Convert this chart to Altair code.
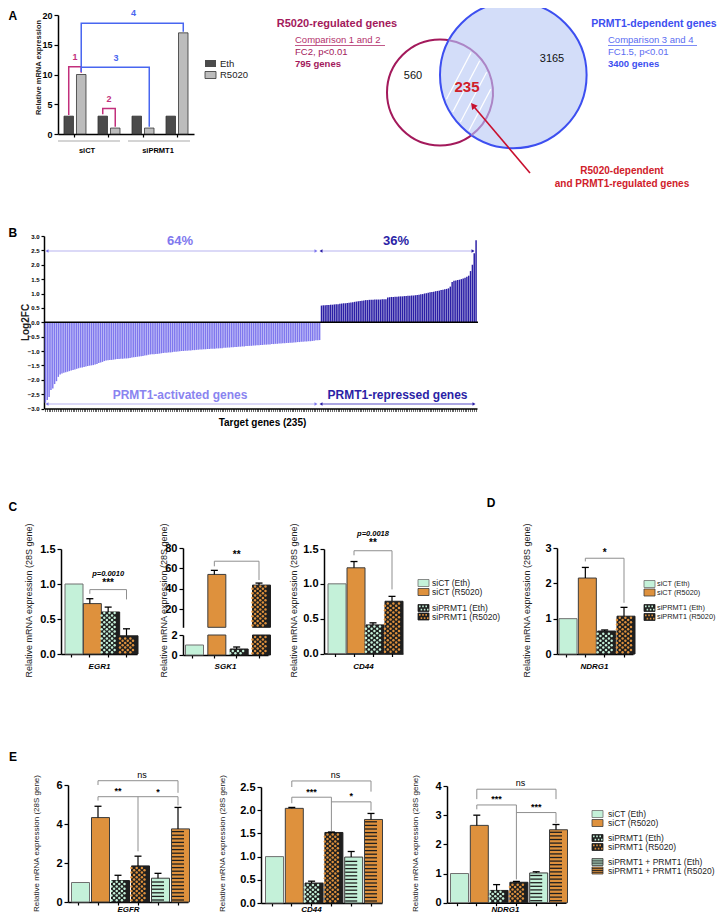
import math
import altair as alt
import pandas as pd

FONT = "Liberation Sans"
W, H = 712, 906
OFF = 8


def px(v):
    return v - OFF


# ============================ DATA ============================
# Panel A (schematic expression levels)
a_pairs = ["1", "2", "3", "4"]
a_treatments = ["Eth", "R5020"]
a_eth = [3, 3, 3, 3]
a_r5020 = [10, 1, 1, 17]
a_groups = ["siCT", "siPRMT1"]

# Venn counts
venn_r5020_only = 560
venn_prmt1_only = 3165
venn_overlap = 235
venn_r5020_total = 795
venn_prmt1_total = 3400

# Panel B: Log2FC of the 235 target genes (sorted)
b_activated = [
    -2.80, -2.70, -2.60, -2.36, -2.30, -2.15, -2.05, -1.90, -1.82, -1.78,
    -1.76, -1.74, -1.72, -1.70, -1.68, -1.66, -1.64, -1.62, -1.60, -1.58,
    -1.57, -1.56, -1.54, -1.52, -1.51, -1.50, -1.49, -1.47, -1.45, -1.42,
    -1.40, -1.38, -1.35, -1.33, -1.32, -1.31, -1.31, -1.30, -1.29, -1.28,
    -1.28, -1.27, -1.27, -1.26, -1.26, -1.25, -1.24, -1.23, -1.22, -1.21,
    -1.20, -1.19, -1.18, -1.17, -1.16, -1.15, -1.13, -1.12, -1.11, -1.11,
    -1.10, -1.10, -1.09, -1.08, -1.07, -1.06, -1.06, -1.05, -1.05, -1.04,
    -1.03, -1.03, -1.02, -1.01, -1.00, -1.00, -0.99, -0.99, -0.98, -0.98,
    -0.97, -0.97, -0.96, -0.96, -0.95, -0.95, -0.94, -0.94, -0.93, -0.93,
    -0.92, -0.92, -0.92, -0.91, -0.91, -0.90, -0.90, -0.89, -0.89, -0.88,
    -0.88, -0.87, -0.87, -0.86, -0.86, -0.85, -0.85, -0.84, -0.84, -0.83,
    -0.83, -0.82, -0.82, -0.81, -0.81, -0.80, -0.80, -0.79, -0.79, -0.78,
    -0.78, -0.77, -0.77, -0.76, -0.76, -0.75, -0.75, -0.74, -0.74, -0.73,
    -0.73, -0.72, -0.72, -0.71, -0.71, -0.70, -0.70, -0.69, -0.69, -0.68,
    -0.68, -0.67, -0.67, -0.66, -0.66, -0.65, -0.64, -0.63, -0.63, -0.62,
]
b_repressed = [
    0.58, 0.59, 0.59, 0.60, 0.60, 0.61, 0.61, 0.62, 0.63, 0.63,
    0.64, 0.65, 0.66, 0.66, 0.67, 0.68, 0.69, 0.70, 0.71, 0.72,
    0.73, 0.74, 0.75, 0.76, 0.77, 0.77, 0.78, 0.78, 0.78, 0.79,
    0.79, 0.79, 0.79, 0.80, 0.80, 0.80, 0.86, 0.87, 0.88, 0.88,
    0.89, 0.89, 0.90, 0.90, 0.90, 0.91, 0.91, 0.92, 0.92, 0.93,
    0.93, 0.94, 0.95, 0.96, 0.97, 0.98, 1.00, 1.01, 1.03, 1.04,
    1.05, 1.06, 1.08, 1.09, 1.10, 1.12, 1.13, 1.15, 1.16, 1.18,
    1.24, 1.40, 1.44, 1.45, 1.47, 1.48, 1.50, 1.52, 1.55, 1.58,
    1.62, 1.78, 2.00, 2.40, 2.85,
]
b_pct = ["64%", "36%"]

# Panels C, D, E
cond4 = ["siCT (Eth)", "siCT (R5020)", "siPRMT1 (Eth)", "siPRMT1 (R5020)"]
cond6 = cond4 + ["siPRMT1 + PRMT1 (Eth)", "siPRMT1 + PRMT1 (R5020)"]

c_egr1 = [1.0, 0.72, 0.60, 0.26]
c_egr1_err = [0.0, 0.07, 0.07, 0.10]
c_sgk1 = [1.0, 54.0, 0.6, 43.5]
c_sgk1_err = [0.0, 4.0, 0.2, 2.0]
c_cd44 = [1.0, 1.23, 0.41, 0.75]
c_cd44_err = [0.0, 0.09, 0.03, 0.07]
d_ndrg1 = [1.0, 2.15, 0.65, 1.07]
d_ndrg1_err = [0.0, 0.30, 0.03, 0.25]
e_egfr = [1.0, 4.33, 1.10, 1.85, 1.22, 3.75]
e_egfr_err = [0.0, 0.58, 0.27, 0.50, 0.25, 1.10]
e_cd44 = [1.0, 2.04, 0.43, 1.52, 0.99, 1.80]
e_cd44_err = [0.0, 0.02, 0.04, 0.01, 0.12, 0.13]
e_ndrg1 = [1.0, 2.65, 0.42, 0.70, 1.02, 2.50]
e_ndrg1_err = [0.0, 0.35, 0.20, 0.03, 0.04, 0.18]

# ============================ STYLE ============================
MINT = "#c4f1d9"
ORANGE = "#de913d"
DARK = "#1f1f1f"
BRK = "#8f8f8f"
CRIM = "#a3195b"
BLUE = "#3d4ff0"
LAV = "#7f78ee"
NAVY = "#2b1fa6"

STYLE = {
    cond6[0]: dict(fill=MINT, stroke="#707070", pat=None),
    cond6[1]: dict(fill=ORANGE, stroke="#3c3c3c", pat=None),
    cond6[2]: dict(fill=DARK, stroke=DARK, pat=("dot", MINT)),
    cond6[3]: dict(fill=DARK, stroke=DARK, pat=("dot", ORANGE)),
    cond6[4]: dict(fill=MINT, stroke="#3c3c3c", pat=("stripe", DARK)),
    cond6[5]: dict(fill=ORANGE, stroke="#3c3c3c", pat=("stripe", DARK)),
}
SLOTS = ["s0", "s1", "s2", "s3", "s4", "s5"]
ONE = pd.DataFrame({"a": [0]})


# ============================ HELPERS ============================
def ptext(s, x, y, size=9, color="black", weight="normal", style="normal",
          align="center", baseline="middle", angle=0):
    return alt.Chart(ONE).mark_text(
        text=s, font=FONT, fontSize=size, color=color, fontWeight=weight,
        fontStyle=style, align=align, baseline=baseline, angle=angle
    ).encode(x=alt.value(px(x)), y=alt.value(px(y)))


def prule(x1, y1, x2, y2, color, width=1.0, dash=None):
    kw = {}
    if dash:
        kw["strokeDash"] = dash
    return alt.Chart(ONE).mark_rule(color=color, strokeWidth=width, **kw).encode(
        x=alt.value(px(x1)), y=alt.value(px(y1)),
        x2=alt.value(px(x2)), y2=alt.value(px(y2)))


def prect(x1, y1, x2, y2, fill, stroke=None, sw=1.0):
    kw = dict(fill=fill)
    if stroke:
        kw.update(stroke=stroke, strokeWidth=sw)
    return alt.Chart(ONE).mark_rect(**kw).encode(
        x=alt.value(px(x1)), y=alt.value(px(y1)),
        x2=alt.value(px(x2)), y2=alt.value(px(y2)))


def ppoint(x, y, shape, size, color, angle=0):
    return alt.Chart(ONE).mark_point(
        shape=shape, size=size, filled=True, color=color, opacity=1, angle=angle
    ).encode(x=alt.value(px(x)), y=alt.value(px(y)))


def band_scale(cats, x0, x1, bar_w, gap):
    n = len(cats)
    step = (x1 - x0 - bar_w - 2 * gap) / (n - 1)
    return alt.Scale(domain=cats, range=[px(x0), px(x1)],
                     paddingInner=(step - bar_w) / step, paddingOuter=gap / step)


def lin_scale(dom, y_bot, y_top):
    return alt.Scale(domain=dom, range=[px(y_bot), px(y_top)], nice=False, zero=False)


def y_axis(ax_x, values, fmt, title=None, t_cx=None, t_cy=None, t_size=9,
           t_weight="normal", l_size=11, tick=4, l_weight="bold"):
    kw = dict(orient="left", offset=OFF - ax_x, values=values, format=fmt,
              labelFont=FONT, labelFontSize=l_size, labelFontWeight=l_weight,
              labelColor="black", labelPadding=2, tickSize=tick, tickColor="black",
              tickWidth=1.2, domainColor="black", domainWidth=1.5, grid=False,
              labelOverlap=False)
    if title:
        kw.update(title=title, titleFont=FONT, titleFontSize=t_size,
                  titleFontWeight=t_weight, titleColor="#222",
                  titleX=t_cx - ax_x, titleY=px(t_cy), titleAngle=270,
                  titleBaseline="middle", titleAlign="center")
    else:
        kw.update(title=None)
    return alt.Axis(**kw)


def x_axis(ax_y, title=None, t_cx=None, t_cy=None, t_size=8, t_weight="bold",
           t_style="italic", tick=3, tick_w=1.2):
    kw = dict(orient="bottom", offset=px(ax_y) - H, labels=False, ticks=True,
              tickSize=tick, tickColor="black", tickWidth=tick_w,
              domainColor="black", domainWidth=1.5, grid=False)
    if title:
        kw.update(title=title, titleFont=FONT, titleFontSize=t_size,
                  titleFontWeight=t_weight, titleFontStyle=t_style, titleColor="black",
                  titleX=px(t_cx), titleY=t_cy - ax_y, titleBaseline="middle",
                  titleAlign="center")
    else:
        kw.update(title=None)
    return alt.Axis(**kw)


def bar_segment(cats, vals, xs, ys, k, base, clip, bar_w, xax, yax):
    rows, dots, stripes = [], [], []
    for c, v in zip(cats, vals):
        if v <= base:
            continue
        top = min(v, clip) if clip is not None else v
        st = STYLE[c]
        rows.append(dict(cat=c, top=top, base=base, fill=st["fill"], stroke=st["stroke"]))
        h = (top - base) * k
        if st["pat"] and st["pat"][0] == "dot":
            r = 0
            while 2.3 * r + 1.8 < h - 1.0:
                yv = base + (2.3 * r + 1.8) / k
                for s in (SLOTS[0::2] if r % 2 == 0 else SLOTS[1::2]):
                    dots.append(dict(cat=c, y=yv, slot=s, col=st["pat"][1]))
                r += 1
        elif st["pat"]:
            r = 0
            while 3.6 * r + 2.0 < h - 1.0:
                stripes.append(dict(cat=c, y=base + (3.6 * r + 2.0) / k))
                r += 1
    out = [alt.Chart(pd.DataFrame(rows)).mark_bar(strokeWidth=1).encode(
        x=alt.X("cat:N", scale=xs, axis=xax),
        y=alt.Y("top:Q", scale=ys, axis=yax),
        y2="base:Q",
        fill=alt.Fill("fill:N", scale=None),
        stroke=alt.Stroke("stroke:N", scale=None))]
    if dots:
        out.append(alt.Chart(pd.DataFrame(dots)).mark_circle(size=6, opacity=1).encode(
            x=alt.X("cat:N", scale=xs, axis=xax),
            xOffset=alt.XOffset("slot:N", scale=alt.Scale(domain=SLOTS, paddingInner=0, paddingOuter=0)),
            y=alt.Y("y:Q", scale=ys, axis=yax),
            color=alt.Color("col:N", scale=None)))
    if stripes:
        out.append(alt.Chart(pd.DataFrame(stripes)).mark_tick(
            orient="horizontal", size=bar_w - 1, thickness=1.3, color=DARK, opacity=1).encode(
            x=alt.X("cat:N", scale=xs, axis=xax),
            y=alt.Y("y:Q", scale=ys, axis=yax)))
    return out


def err_layers(cats, vals, errs, xs, ys, xax, yax):
    rows = [dict(cat=c, v=v, t=v + e) for c, v, e in zip(cats, vals, errs) if e > 0]
    if not rows:
        return []
    df = pd.DataFrame(rows)
    rule = alt.Chart(df).mark_rule(color="black", strokeWidth=1.2).encode(
        x=alt.X("cat:N", scale=xs, axis=xax),
        y=alt.Y("v:Q", scale=ys, axis=yax), y2="t:Q")
    cap = alt.Chart(df).mark_tick(orient="horizontal", size=7, thickness=1.3,
                                  color="black", opacity=1).encode(
        x=alt.X("cat:N", scale=xs, axis=xax),
        y=alt.Y("t:Q", scale=ys, axis=yax))
    return [rule, cap]


def bracket_layer(brackets, xs, ys, xax, yax):
    rows = []
    for b, pts in enumerate(brackets):
        for o, (c, y) in enumerate(pts):
            rows.append(dict(b=b, o=o, cat=c, y=y))
    return alt.Chart(pd.DataFrame(rows)).mark_line(color=BRK, strokeWidth=1).encode(
        x=alt.X("cat:N", scale=xs, axis=xax),
        y=alt.Y("y:Q", scale=ys, axis=yax),
        detail="b:N", order="o:Q")


def note(cat, y, text, xs, ys, xax, yax, size=9, weight="bold", style="normal", dx=0):
    return alt.Chart(pd.DataFrame({"cat": [cat], "y": [y]})).mark_text(
        text=text, font=FONT, fontSize=size, fontWeight=weight, fontStyle=style,
        dx=dx, color="black", align="center", baseline="middle").encode(
        x=alt.X("cat:N", scale=xs, axis=xax),
        y=alt.Y("y:Q", scale=ys, axis=yax))


def bar_panel(cats, vals, errs, ax_x0, ax_x1, bar_w, gap, y_bot, y_top, dom, ticks,
              fmt, gene, gene_cx, gene_cy, yt_cx, yt_cy, yt_size, brackets, notes):
    xs = band_scale(cats, ax_x0, ax_x1, bar_w, gap)
    ys = lin_scale(dom, y_bot, y_top)
    k = (y_bot - y_top) / (dom[1] - dom[0])
    xax = x_axis(y_bot, gene, gene_cx, gene_cy)
    yax = y_axis(ax_x0, ticks, fmt, "Relative mRNA expression (28S gene)", yt_cx, yt_cy, yt_size)
    ls = bar_segment(cats, vals, xs, ys, k, 0, None, bar_w, xax, yax)
    ls += err_layers(cats, vals, errs, xs, ys, xax, yax)
    ls.append(bracket_layer([[(cats[i], y) for i, y in br] for br in brackets], xs, ys, xax, yax))
    for n in notes:
        n = dict(n)
        n["cat"] = cats[n["cat"]]
        ls.append(note(xs=xs, ys=ys, xax=xax, yax=yax, **n))
    return alt.layer(*ls)


def legend_rows(conds, sw_x, txt_x, ys, size=8.5):
    out = []
    for c, yc in zip(conds, ys):
        st = STYLE[c]
        out.append(prect(sw_x, yc - 3.5, sw_x + 11, yc + 3.5, st["fill"], st["stroke"], 0.8))
        if st["pat"] and st["pat"][0] == "dot":
            out.append(prule(sw_x + 1, yc - 1.6, sw_x + 10.5, yc - 1.6, st["pat"][1], 1.6, [1.6, 1.6]))
            out.append(prule(sw_x + 2.6, yc + 1.6, sw_x + 10.5, yc + 1.6, st["pat"][1], 1.6, [1.6, 1.6]))
        elif st["pat"]:
            for dy in (-1.8, 0.0, 1.8):
                out.append(prule(sw_x, yc + dy, sw_x + 11, yc + dy, DARK, 0.9))
        out.append(ptext(c, txt_x, yc, size=size, align="left", color="#222"))
    return out


layers = []

# ============================ PANEL A ============================
xsA = alt.Scale(domain=a_pairs, range=[px(58), px(194)], paddingInner=0.353, paddingOuter=0.176)
ysA = lin_scale([0, 20], 134, 15)
xoA = alt.Scale(domain=a_treatments, paddingInner=0.24, paddingOuter=0)
axAx = x_axis(134)
axAy = y_axis(58, [0, 5, 10, 15, 20], "d", "Relative mRNA expression", 38.5, 67,
              t_size=7.5, t_weight="bold", l_size=9)
a_rows = []
for p, e, r in zip(a_pairs, a_eth, a_r5020):
    a_rows.append(dict(pair=p, trt="Eth", val=e, fill="#4b4b4b"))
    a_rows.append(dict(pair=p, trt="R5020", val=r, fill="#bcbcbc"))
barsA = alt.Chart(pd.DataFrame(a_rows)).mark_bar(stroke="#333", strokeWidth=0.8).encode(
    x=alt.X("pair:N", scale=xsA, axis=axAx),
    xOffset=alt.XOffset("trt:N", scale=xoA),
    y=alt.Y("val:Q", scale=ysA, axis=axAy),
    fill=alt.Fill("fill:N", scale=None))
brA_spec = [
    ("#c2307c", [("1", "Eth", 3.2), ("1", "Eth", 11.3), ("1", "R5020", 11.3), ("1", "R5020", 10.3)]),
    ("#c2307c", [("2", "Eth", 3.3), ("2", "Eth", 4.3), ("2", "R5020", 4.3), ("2", "R5020", 1.2)]),
    ("#4866f0", [("1", "R5020", 11.2), ("3", "R5020", 11.2), ("3", "R5020", 1.2)]),
    ("#4866f0", [("1", "R5020", 10.4), ("1", "R5020", 18.6), ("4", "R5020", 18.6), ("4", "R5020", 17.2)]),
]
brA_rows = []
for b, (col, pts) in enumerate(brA_spec):
    for o, (p, t, y) in enumerate(pts):
        brA_rows.append(dict(b=b, o=o, pair=p, trt=t, y=y, col=col))
brA = alt.Chart(pd.DataFrame(brA_rows)).mark_line(strokeWidth=1.5).encode(
    x=alt.X("pair:N", scale=xsA, axis=axAx),
    xOffset=alt.XOffset("trt:N", scale=xoA),
    y=alt.Y("y:Q", scale=ysA, axis=axAy),
    color=alt.Color("col:N", scale=None),
    detail="b:N", order="o:Q")


def noteA(p, y, t, col, dx=0):
    return alt.Chart(pd.DataFrame({"pair": [p], "y": [y]})).mark_text(
        text=t, font=FONT, fontSize=9, fontWeight="bold", color=col, dx=dx).encode(
        x=alt.X("pair:N", scale=xsA, axis=axAx),
        y=alt.Y("y:Q", scale=ysA, axis=axAy))


layers.append(alt.layer(barsA, brA,
                        noteA("1", 12.9, "1", "#c2307c"),
                        noteA("2", 5.8, "2", "#c2307c"),
                        noteA("2", 12.8, "3", "#4866f0", 7),
                        noteA("3", 20.3, "4", "#4866f0", -9.5)))
layers += [
    ptext("A", 8.5, 15.5, size=12, weight="bold", align="left"),
    prule(58, 141, 120, 141, "#c6c6c6", 1.5),
    prule(128, 141, 190, 141, "#c6c6c6", 1.5),
    ptext(a_groups[0], 87, 151, size=7.5, weight="bold"),
    ptext(a_groups[1], 158, 151, size=7.5, weight="bold"),
    prect(205, 60, 216, 67, "#4b4b4b"),
    prect(205, 71.5, 216, 78.5, "#bcbcbc", "#333", 0.8),
    ptext(a_treatments[0], 220, 63.5, size=9.5, align="left", color="#222"),
    ptext(a_treatments[1], 220, 75, size=9.5, align="left", color="#222"),
]

# ============================ VENN ============================
C1, R1 = (440.0, 92.5), 53.0
C2, R2 = (513.3, 75.0), 73.3


def circ(c, r, fill, stroke, sw):
    return alt.Chart(ONE).mark_point(
        shape="circle", filled=True, fill=fill, stroke=stroke, strokeWidth=sw,
        size=4 * r * r, opacity=1).encode(x=alt.value(px(c[0])), y=alt.value(px(c[1])))


dx_, dy_ = C2[0] - C1[0], C2[1] - C1[1]
dd = math.hypot(dx_, dy_)
aa = (R1 ** 2 - R2 ** 2 + dd ** 2) / (2 * dd)
hh = math.sqrt(R1 ** 2 - aa ** 2)
ux_, uy_ = dx_ / dd, dy_ / dd
Pm = (C1[0] + aa * ux_, C1[1] + aa * uy_)
I1 = (Pm[0] - hh * uy_, Pm[1] + hh * ux_)
I2 = (Pm[0] + hh * uy_, Pm[1] - hh * ux_)


def theta_of(p):
    t = math.atan2(p[0] - C1[0], -(p[1] - C1[1]))
    return t % (2 * math.pi)


th = sorted([theta_of(I1), theta_of(I2)])
inner_arc = alt.Chart(ONE).mark_arc(
    theta=th[0], theta2=th[1], radius=R1 + 1, radius2=R1 - 1, color="#a77bc0", opacity=0.9
).encode(x=alt.value(px(C1[0])), y=alt.value(px(C1[1])))

hatch = []
hx, hy = 0.466, -0.885
for c0 in [425, 438, 451, 464, 477, 490, 503]:
    pts = []
    for i in range(0, 320):
        t = i * 0.5
        x, y = c0 + t * hx, 140 + t * hy
        if math.hypot(x - C1[0], y - C1[1]) < R1 - 2 and math.hypot(x - C2[0], y - C2[1]) < R2 - 2:
            pts.append((x, y))
    if len(pts) > 4:
        hatch.append(prule(pts[0][0], pts[0][1], pts[-1][0], pts[-1][1], "white", 1.2))

layers += [circ(C1, R1, "white", CRIM, 2), circ(C2, R2, "#d3ddf9", BLUE, 2), inner_arc] + hatch
layers += [
    ptext("R5020-regulated genes", 337, 24, size=11, weight="bold", color=CRIM),
    ptext("Comparison  1 and 2", 295, 40, size=9.5, align="left", color="#b3306c"),
    prule(295, 45.5, 385, 45.5, "#b3306c", 0.8),
    ptext("FC2, p<0.01", 295, 52, size=9.5, align="left", color=CRIM),
    ptext(f"{venn_r5020_total} genes", 295, 64, size=9.5, weight="bold", align="left", color=CRIM),
    ptext("PRMT1-dependent genes", 654, 24, size=10.5, weight="bold", color=BLUE),
    ptext("Comparison  3 and 4", 608, 40, size=9.5, align="left", color="#5b6df2"),
    prule(608, 45.5, 697, 45.5, "#5b6df2", 0.8),
    ptext("FC1.5, p<0.01", 608, 52, size=9.5, align="left", color="#5b6df2"),
    ptext(f"{venn_prmt1_total} genes", 608, 64, size=9.5, weight="bold", align="left", color=BLUE),
    ptext(str(venn_r5020_only), 413, 76, size=11, color="#111"),
    ptext(str(venn_prmt1_only), 552, 59, size=11, color="#111"),
    ptext(str(venn_overlap), 467, 87, size=15, weight="bold", color="#d0202a"),
    prule(530, 173, 472.5, 105, "#c8102e", 1.6),
    ppoint(473, 105.5, "triangle-up", 50, "#c8102e", 321),
    ptext("R5020-dependent", 622, 171, size=10, weight="bold", color="#d0202a"),
    ptext("and PRMT1-regulated genes", 622, 184, size=10, weight="bold", color="#d0202a"),
]

# ============================ PANEL B ============================
b_vals = b_activated + b_repressed
b_df = pd.DataFrame({
    "g": list(range(len(b_vals))),
    "v": b_vals,
    "c": [LAV] * len(b_activated) + [NAVY] * len(b_repressed),
})
xsB = alt.Scale(domain=list(range(len(b_vals))), range=[px(44.5), px(477)],
                paddingInner=0.2, paddingOuter=0.1)
ysB = lin_scale([-3, 3], 408.5, 236)
b_ticks = [-3.0, -2.5, -2.0, -1.5, -1.0, -0.5, 0.0, 0.5, 1.0, 1.5, 2.0, 2.5, 3.0]
axBx = x_axis(408.5, "Target genes (235)", 262, 422, t_size=10, t_style="normal", tick=3, tick_w=0.6)
axBy = y_axis(44, b_ticks, ".1f", "Log2FC", 25, 322, t_size=10, t_weight="bold", l_size=6, tick=3)
barsB = alt.Chart(b_df).mark_bar(strokeWidth=0).encode(
    x=alt.X("g:O", scale=xsB, axis=axBx),
    y=alt.Y("v:Q", scale=ysB, axis=axBy),
    fill=alt.Fill("c:N", scale=None))
zeroB = alt.Chart(ONE).mark_rule(color="black", strokeWidth=1.5).encode(
    y=alt.Y(datum=0, scale=ysB, axis=axBy), x=alt.value(px(44)), x2=alt.value(px(478)))
layers.append(alt.layer(barsB, zeroB))
layers += [
    ptext("B", 8.5, 233, size=12, weight="bold", align="left"),
    prule(47, 251, 316, 251, "#cfcdf5", 1.5),
    prule(321, 251, 474, 251, "#cfcdf5", 1.5),
    ppoint(47, 251, "triangle-left", 12, LAV),
    ppoint(316, 251, "triangle-right", 12, LAV),
    ppoint(321, 251, "triangle-left", 12, NAVY),
    ppoint(473, 251, "triangle-right", 12, NAVY),
    prule(47, 404, 316, 404, "#cfcdf5", 1.5),
    prule(321, 404, 474, 404, "#5a50c8", 1.2),
    ppoint(47, 404, "triangle-left", 12, LAV),
    ppoint(316, 404, "triangle-right", 12, LAV),
    ppoint(321, 404, "triangle-left", 12, NAVY),
    ppoint(474, 404, "triangle-right", 12, NAVY),
    ptext(b_pct[0], 180, 241, size=13, weight="bold", color=LAV),
    ptext(b_pct[1], 396, 241, size=13, weight="bold", color=NAVY),
    ptext("PRMT1-activated genes", 180, 395, size=12, weight="bold", color="#8a84f0"),
    ptext("PRMT1-repressed genes", 397.5, 395, size=12, weight="bold", color=NAVY),
]

# ============================ PANEL C ============================
layers.append(bar_panel(
    cond4, c_egr1, c_egr1_err, 61, 137, 13, 4, 654, 549, [0, 1.5], [0, 0.5, 1.0, 1.5], ".1f",
    "EGR1", 99, 666, 28, 600, 9,
    brackets=[[(1, 0.86), (1, 0.92), (3, 0.92), (3, 0.78)]],
    notes=[dict(cat=2, y=1.02, text="***", size=10),
           dict(cat=2, y=1.15, text="p=0.0010", size=7.5, style="italic")]))

# SGK1 with broken axis
xs2 = band_scale(cond4, 183, 268, 13, 2.5)
ys2t = lin_scale([2, 80], 627.3, 548)
ys2b = lin_scale([0, 2], 655, 635)
k2t = (627.3 - 548) / 78
k2b = (655 - 635) / 2
ax2x = x_axis(655, "SGK1", 225, 666)
ax2t = y_axis(183, [20, 40, 60, 80], "d", "Relative mRNA expression (28S gene)", 163, 600)
ax2b = y_axis(183, [0, 1, 2], "d")
top_layers = bar_segment(cond4, c_sgk1, xs2, ys2t, k2t, 2, None, 13, ax2x, ax2t)
top_layers += err_layers([c for c, v in zip(cond4, c_sgk1) if v > 2],
                         [v for v in c_sgk1 if v > 2],
                         [e for v, e in zip(c_sgk1, c_sgk1_err) if v > 2], xs2, ys2t, ax2x, ax2t)
top_layers.append(bracket_layer([[(cond4[1], 62), (cond4[1], 67), (cond4[3], 67), (cond4[3], 48.5)]],
                                xs2, ys2t, ax2x, ax2t))
top_layers.append(note(cond4[2], 73, "**", xs2, ys2t, ax2x, ax2t, size=10))
bot_layers = bar_segment(cond4, c_sgk1, xs2, ys2b, k2b, 0, 2, 13, ax2x, ax2b)
bot_layers += err_layers([c for c, v in zip(cond4, c_sgk1) if v <= 2],
                         [v for v in c_sgk1 if v <= 2],
                         [e for v, e in zip(c_sgk1, c_sgk1_err) if v <= 2], xs2, ys2b, ax2x, ax2b)
layers.append(alt.layer(alt.layer(*top_layers), alt.layer(*bot_layers)).resolve_scale(y="independent"))

layers.append(bar_panel(
    cond4, c_cd44, c_cd44_err, 324, 403, 14, 4, 653.5, 549, [0, 1.5], [0, 0.5, 1.0, 1.5], ".1f",
    "CD44", 363, 666, 293, 600, 9,
    brackets=[[(1, 1.41), (1, 1.475), (3, 1.475), (3, 0.92)]],
    notes=[dict(cat=2, y=1.58, text="**", size=10),
           dict(cat=2, y=1.72, text="p=0.0018", size=7.5, style="italic")]))
layers.append(ptext("C", 8.5, 507, size=12, weight="bold", align="left"))
layers += legend_rows(cond4, 418, 432, [583, 592, 608, 616.5])

# ============================ PANEL D ============================
layers.append(bar_panel(
    cond4, d_ndrg1, d_ndrg1_err, 557, 633, 14, 2, 654, 548, [0, 3], [0, 1, 2, 3], "d",
    "NDRG1", 594, 666, 526, 600, 9,
    brackets=[[(1, 2.62), (1, 2.71), (3, 2.71), (3, 1.45)]],
    notes=[dict(cat=2, y=2.86, text="*", size=10)]))
layers.append(ptext("D", 491, 503, size=12, weight="bold"))
layers += legend_rows(cond4, 644, 657, [584, 592.5, 608, 617], size=7.3)

# ============================ PANEL E ============================
layers.append(bar_panel(
    cond6, e_egfr, e_egfr_err, 68, 188, 13, 3.5, 902, 785, [0, 6], [0, 2, 4, 6], "d",
    "EGFR", 128, 909.5, 36, 843, 8,
    brackets=[[(1, 6.0), (1, 6.22), (5, 6.22), (5, 5.6)],
              [(1, 5.2), (1, 5.4), (3, 5.4), (3, 2.6)],
              [(3, 5.4), (5, 5.4), (5, 4.95)]],
    notes=[dict(cat=3, y=6.5, text="ns", size=9, weight="normal", dx=4),
           dict(cat=2, y=5.7, text="**", size=9),
           dict(cat=4, y=5.65, text="*", size=9)]))
layers.append(bar_panel(
    cond6, e_cd44, e_cd44_err, 261, 382, 13, 4.5, 903, 787, [0, 2.5], [0, 0.5, 1.0, 1.5, 2.0, 2.5], ".1f",
    "CD44", 311, 909.5, 222, 843, 8,
    brackets=[[(1, 2.5), (1, 2.63), (5, 2.63), (5, 2.4)],
              [(1, 2.15), (1, 2.28), (3, 2.28), (3, 1.55)],
              [(3, 2.18), (5, 2.18), (5, 1.99)]],
    notes=[dict(cat=3, y=2.76, text="ns", size=9, weight="normal", dx=4),
           dict(cat=2, y=2.4, text="***", size=9),
           dict(cat=4, y=2.3, text="*", size=9)]))
layers.append(bar_panel(
    cond6, e_ndrg1, e_ndrg1_err, 447, 566, 13, 3.5, 902.7, 786, [0, 4], [0, 1, 2, 3, 4], "d",
    "NDRG1", 505, 909.5, 415, 843, 8,
    brackets=[[(1, 3.55), (1, 3.89), (5, 3.89), (5, 3.55)],
              [(1, 3.2), (1, 3.35), (3, 3.35), (3, 0.8)],
              [(3, 3.09), (5, 3.09), (5, 2.73)]],
    notes=[dict(cat=3, y=4.1, text="ns", size=9, weight="normal", dx=4),
           dict(cat=2, y=3.55, text="***", size=9),
           dict(cat=4, y=3.27, text="***", size=9)]))
layers.append(ptext("E", 9, 757, size=12, weight="bold", align="left"))
layers += legend_rows(cond6, 592, 608, [814, 823, 838, 847, 862, 870.5])

# ============================ ASSEMBLE ============================
chart = alt.layer(*layers).resolve_scale(
    x="independent", y="independent", xOffset="independent"
).properties(
    width=W, height=H, padding=0, autosize=alt.AutoSizeParams(type="none")
).configure(font=FONT).configure_view(stroke=None)

chart.save("out.html", embed_options={"renderer": "svg", "actions": False})
